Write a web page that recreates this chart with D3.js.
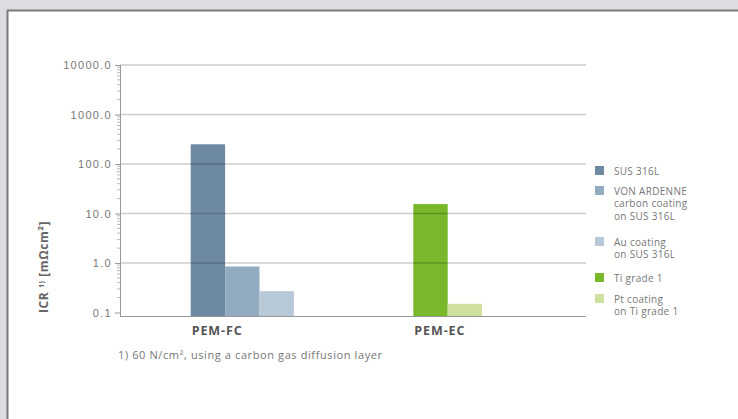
<!DOCTYPE html>
<html>
<head>
<meta charset="utf-8">
<script src="https://cdn.jsdelivr.net/npm/d3@7"></script>
<style>
    body { margin: 0; background: #dcdde0; }
    svg { display: block; font-family: 'Open Sans', 'DejaVu Sans', sans-serif; }
</style>
</head>
<body>
<div id="chart"></div>
<script>
    // data
    var categories = ['PEM-FC', 'PEM-EC'];
    var series = ['SUS 316L', 'VON ARDENNE carbon coating on SUS 316L', 'Au coating on SUS 316L', 'Ti grade 1', 'Pt coating on Ti grade 1'];
    var legendLines = [['SUS 316L'], ['VON ARDENNE', 'carbon coating', 'on SUS 316L'], ['Au coating', 'on SUS 316L'], ['Ti grade 1'], ['Pt coating', 'on Ti grade 1']];
    var colors = ['#6e8aa3', '#93abc0', '#b7c8d7', '#78b82a', '#cfe0a0'];
    // values per series, one per category (null = no bar)
    var values = [
        [250, null],
        [0.85, null],
        [0.27, null],
        [null, 15.5],
        [null, 0.15]
    ];
    var yTicks = [0.1, 1, 10, 100, 1000, 10000];

    var W = 738, H = 419;

    var svg = d3.select('#chart').append('svg')
        .attr('width', W)
        .attr('height', H);

    // frame
    svg.append('rect').attr('x', 0).attr('y', 0).attr('width', W).attr('height', H).attr('fill', '#dcdde0');
    svg.append('rect').attr('x', 7).attr('y', 10).attr('width', W - 7).attr('height', H - 10).attr('fill', '#fff');
    svg.append('line').attr('x1', 7).attr('x2', W).attr('y1', 10.5).attr('y2', 10.5).attr('stroke', '#7b7b7b').attr('stroke-width', 2);
    svg.append('line').attr('x1', 7.5).attr('x2', 7.5).attr('y1', 10).attr('y2', H).attr('stroke', '#7b7b7b').attr('stroke-width', 2);

    var plotLeft = 120, plotRight = 586;

    var y = d3.scaleLog()
        .domain([0.1, 10000])
        .range([312.5, 65]);
    var base = 316.5;

    var x = d3.scaleBand()
        .domain(categories)
        .range([190.7, 190.7 + 2 * 222.6])
        .paddingInner(0)
        .align(0);
    var barW = 34.4;

    // bars
    categories.forEach(function(cat, ci){
        var present = [];
        series.forEach(function(s, si){
            if(values[si][ci] != null) present.push(si);
        });
        svg.selectAll('rect.bar-' + ci)
            .data(present)
            .enter().append('rect')
            .attr('class', 'bar-' + ci)
            .attr('x', function(si, k){ return x(cat) + k * barW; })
            .attr('y', function(si){ return y(values[si][ci]); })
            .attr('width', barW)
            .attr('height', function(si){ return base - y(values[si][ci]); })
            .attr('fill', function(si){ return colors[si]; });
    });

    // gridlines on top, translucent so they show through the bars
    svg.selectAll('line.grid')
        .data(yTicks.slice(1))
        .enter().append('line')
        .attr('class', 'grid')
        .attr('x1', plotLeft)
        .attr('x2', plotRight)
        .attr('y1', function(d){ return y(d); })
        .attr('y2', function(d){ return y(d); })
        .attr('stroke', 'rgba(0,0,0,0.2)')
        .attr('stroke-width', 1.6);

    // baseline
    svg.append('line')
        .attr('x1', plotLeft).attr('x2', plotRight)
        .attr('y1', base).attr('y2', base)
        .attr('stroke', '#999').attr('stroke-width', 1);

    // y axis
    var yAxis = svg.append('g')
        .attr('transform', 'translate(' + plotLeft + ',0)')
        .call(d3.axisLeft(y).tickValues(yTicks).tickFormat(d3.format('.1f')).tickSize(5).tickPadding(3));
    yAxis.select('.domain').attr('stroke', '#999').attr('d', 'M0.5,' + 65 + 'V' + base);
    yAxis.selectAll('.tick line').attr('stroke', '#999');
    yAxis.selectAll('.tick text')
        .attr('fill', '#777')
        .attr('font-size', 11)
        .attr('letter-spacing', 1.3);

    // minor ticks
    var minor = [];
    yTicks.slice(0, -1).forEach(function(t){
        for(var m = 2; m <= 9; m++) minor.push(t * m);
    });
    svg.selectAll('line.minor')
        .data(minor)
        .enter().append('line')
        .attr('class', 'minor')
        .attr('x1', plotLeft - 3)
        .attr('x2', plotLeft)
        .attr('y1', function(d){ return y(d); })
        .attr('y2', function(d){ return y(d); })
        .attr('stroke', '#bbb');

    // y title
    var yt = svg.append('text')
        .attr('transform', 'translate(48,267) rotate(-90)')
        .attr('text-anchor', 'middle')
        .attr('font-size', 12)
        .attr('font-weight', 'bold')
        .attr('letter-spacing', 0.6)
        .attr('fill', '#666');
    yt.append('tspan').text('ICR ');
    yt.append('tspan').attr('font-size', 7).attr('dy', -4).text('1)');
    yt.append('tspan').attr('dy', 4).text(' [mΩcm²]');

    // category labels
    svg.selectAll('text.cat')
        .data(categories)
        .enter().append('text')
        .attr('class', 'cat')
        .attr('x', function(d){ return x(d) + 1; })
        .attr('y', 335)
        .attr('font-size', 12.5)
        .attr('font-weight', 'bold')
        .attr('letter-spacing', 0.9)
        .attr('fill', '#555')
        .text(function(d){ return d; });

    // legend
    var legendTop = [166, 186, 237, 273, 294];
    var lg = svg.selectAll('g.legend')
        .data(series)
        .enter().append('g')
        .attr('class', 'legend')
        .attr('transform', function(d, i){ return 'translate(595,' + legendTop[i] + ')'; });
    lg.append('rect')
        .attr('width', 9).attr('height', 9)
        .attr('fill', function(d, i){ return colors[i]; });
    lg.each(function(d, i){
        var t = d3.select(this).append('text')
            .attr('x', 19)
            .attr('y', 8.5)
            .attr('font-size', 10)
            .attr('letter-spacing', 0.3)
            .attr('fill', '#777');
        legendLines[i].forEach(function(line, k){
            t.append('tspan').attr('x', 19).attr('dy', k == 0 ? 0 : 12.5).text(line);
        });
    });

    // footnote
    svg.append('text')
        .attr('x', 118)
        .attr('y', 359)
        .attr('font-size', 11)
        .attr('letter-spacing', 0.6)
        .attr('fill', '#777')
        .text('1) 60 N/cm², using a carbon gas diffusion layer');
</script>
</body>
</html>
